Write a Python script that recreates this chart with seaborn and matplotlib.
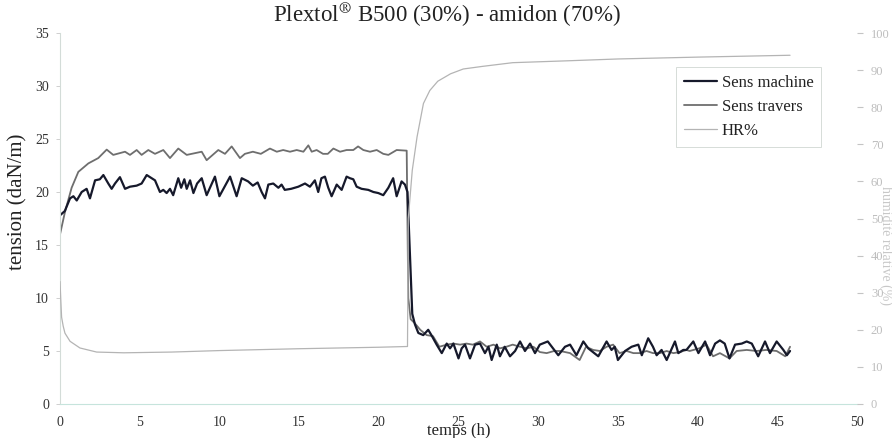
import matplotlib
matplotlib.use("Agg")
import matplotlib.pyplot as plt
import pandas as pd
import seaborn as sns

# temps (h) / tension (daN/m)
temps_machine = [0.0, 0.3, 0.63, 0.84, 1.05, 1.36, 1.67, 1.88, 2.2, 2.5, 2.72, 3.03, 3.24, 3.45,
                 3.76, 4.08, 4.39, 4.81, 5.12, 5.44, 5.75, 5.96, 6.27, 6.48, 6.69, 6.9, 7.1, 7.42,
                 7.6, 7.8, 7.95, 8.16, 8.37, 8.6, 8.89, 9.2, 9.72, 10.0, 10.67, 11.08, 11.4, 11.8,
                 12.1, 12.4, 12.65, 12.86, 13.07, 13.38, 13.7, 13.9, 14.1, 14.5, 14.95, 15.37,
                 15.68, 15.99, 16.2, 16.4, 16.62, 16.83, 17.04, 17.36, 17.67, 17.98, 18.19, 18.4,
                 18.61, 18.92, 19.34, 19.66, 19.97, 20.28, 20.6, 20.9, 21.12, 21.43, 21.64, 21.8,
                 22.1, 22.27, 22.48, 22.79, 23.1, 23.3, 23.63, 23.95, 24.26, 24.47, 24.68, 25.0,
                 25.2, 25.41, 25.72, 26.04, 26.35, 26.66, 26.88, 27.08, 27.4, 27.6, 27.9, 28.23,
                 28.55, 28.86, 29.17, 29.49, 29.8, 30.1, 30.6, 31.26, 31.68, 32.0, 32.4, 32.83,
                 33.14, 33.77, 34.29, 34.6, 34.8, 35.0, 35.45, 35.86, 36.28, 36.5, 36.9, 37.2,
                 37.43, 37.74, 38.06, 38.58, 38.79, 39.1, 39.3, 39.73, 40.05, 40.47, 40.78, 41.1,
                 41.4, 41.7, 42.0, 42.35, 42.77, 43.08, 43.4, 43.8, 44.23, 44.54, 44.96, 45.38,
                 45.6, 45.8]
tension_machine = [17.8, 18.2, 19.4, 19.6, 19.2, 20.0, 20.3, 19.4, 21.1, 21.2, 21.6, 20.8, 20.3, 20.8,
                   21.4, 20.3, 20.5, 20.6, 20.8, 21.6, 21.3, 21.1, 20.0, 20.2, 19.9, 20.3, 19.7, 21.3,
                   20.4, 21.2, 20.3, 21.1, 19.9, 20.8, 21.3, 19.7, 21.45, 19.6, 21.45, 19.6, 21.3, 21.0,
                   20.6, 20.9, 20.0, 19.4, 20.7, 20.8, 20.4, 20.7, 20.2, 20.3, 20.5, 20.8,
                   20.5, 21.1, 20.0, 21.3, 21.45, 20.4, 19.6, 20.7, 20.2, 21.45, 21.3, 21.2,
                   20.5, 20.3, 20.2, 20.0, 19.9, 19.7, 20.4, 21.3, 19.6, 21.0, 20.7, 20.0,
                   8.5, 7.5, 6.7, 6.5, 7.0, 6.5, 5.6, 4.8, 5.7, 5.25, 5.7, 4.3,
                   5.25, 5.6, 4.3, 5.6, 5.7, 4.8, 5.4, 4.15, 5.6, 4.5, 5.4, 4.5,
                   5.0, 5.9, 5.0, 5.7, 4.8, 5.6, 5.9, 4.6, 5.4, 5.6, 4.6, 5.9,
                   5.25, 4.5, 5.9, 5.1, 5.4, 4.15, 5.0, 5.4, 5.6, 4.6, 6.2, 5.4,
                   4.6, 5.1, 4.15, 5.9, 4.8, 5.1, 5.1, 5.9, 4.8, 5.9, 4.6, 5.7,
                   6.0, 5.7, 4.3, 5.6, 5.7, 5.9, 5.7, 4.5, 5.9, 4.8, 5.9, 5.1,
                   4.6, 5.0]

temps_travers = [0.0, 0.31, 0.73, 1.15, 1.78, 2.4, 2.93, 3.34, 4.08, 4.39, 4.81, 5.12, 5.54, 5.96,
                 6.48, 6.9, 7.42, 7.95, 8.89, 9.2, 9.93, 10.35, 10.77, 11.29, 11.6, 12.1, 12.6,
                 13.17, 13.6, 14.0, 14.43, 14.85, 15.27, 15.58, 15.79, 16.1, 16.5, 16.8, 17.15,
                 17.57, 17.98, 18.4, 18.7, 19.03, 19.45, 19.87, 20.28, 20.6, 21.12, 21.75, 21.85,
                 22.0, 22.27, 22.6, 23.0, 23.4, 23.8, 24.26, 24.68, 25.1, 25.5, 25.9, 26.35, 26.77,
                 27.2, 27.6, 28.0, 28.4, 28.86, 29.3, 29.7, 30.1, 30.53, 31.0, 31.37, 32.0, 32.6,
                 33.0, 33.45, 33.87, 34.29, 34.7, 35.1, 35.55, 35.97, 36.38, 36.8, 37.2, 37.64,
                 38.06, 38.48, 38.9, 39.3, 39.5, 40.1, 40.56, 40.97, 41.4, 42.0, 42.45, 43.08,
                 43.7, 44.3, 44.96, 45.5, 45.8]
tension_travers = [16.0, 18.1, 20.4, 21.9, 22.7, 23.2, 24.0, 23.5, 23.8, 23.5, 23.96, 23.5, 23.96, 23.6,
                   23.96, 23.2, 24.1, 23.5, 23.8, 23.0, 23.96, 23.6, 24.3, 23.2, 23.6, 23.8, 23.6,
                   24.1, 23.8, 23.96, 23.8, 23.96, 23.8, 24.4, 23.8, 23.96, 23.6, 23.6, 24.1,
                   23.8, 23.96, 23.96, 24.3, 23.96, 23.8, 23.96, 23.6, 23.5, 23.96, 23.9, 10.0,
                   8.0, 7.6, 7.0, 6.5, 6.4, 5.4, 5.6, 5.7, 5.6, 5.7, 5.6, 5.9, 5.4,
                   5.6, 5.25, 5.4, 5.6, 5.4, 5.25, 5.4, 4.9, 4.8, 5.0, 5.0, 4.8, 4.15,
                   5.4, 5.1, 5.0, 5.4, 5.6, 4.8, 5.0, 4.8, 4.8, 5.0, 4.8, 4.8,
                   5.0, 4.8, 4.9, 5.1, 5.0, 5.25, 5.6, 4.5, 4.8, 4.3, 5.0, 5.1,
                   5.0, 5.1, 5.0, 4.5, 5.4]

# humidite relative (%), right axis
temps_hr = [0.0, 0.05, 0.1, 0.2, 0.31, 0.63, 1.25, 2.3, 4.0, 7.0, 10.0, 15.0, 20.0, 21.8,
            21.85, 22.1, 22.4, 22.8, 23.2, 23.7, 24.5, 25.3, 26.5, 28.4, 31.8, 35.0, 40.0, 45.8]
hr = [33.0, 28.0, 23.4, 21.0, 19.1, 16.9, 15.1, 14.0, 13.8, 14.0, 14.4, 14.9, 15.3, 15.5,
      50.0, 63.0, 72.0, 81.0, 84.5, 87.0, 89.0, 90.3, 91.0, 92.0, 92.5, 93.0, 93.5, 94.0]

x_ticks = list(range(0, 51, 5))
y_ticks = list(range(0, 36, 5))
hr_ticks = list(range(0, 101, 10))

sns.set_theme(style="white")
plt.rcParams['font.family'] = ['Liberation Serif', 'DejaVu Serif']
plt.rcParams['mathtext.fontset'] = 'stix'

fig = plt.figure(figsize=(8.92, 4.38), dpi=100)
ax = fig.add_axes([60 / 892, 1 - 404 / 438, 797 / 892, 371 / 438])
ax2 = ax.twinx()

df_m = pd.DataFrame({"temps": temps_machine, "tension": tension_machine})
df_t = pd.DataFrame({"temps": temps_travers, "tension": tension_travers})
df_h = pd.DataFrame({"temps": temps_hr, "hr": hr})

sns.lineplot(data=df_t, x="temps", y="tension", ax=ax, color="#6e6e6e", lw=1.3,
             sort=False, estimator=None)
sns.lineplot(data=df_m, x="temps", y="tension", ax=ax, color="#16192b", lw=1.6,
             sort=False, estimator=None)
sns.lineplot(data=df_h, x="temps", y="hr", ax=ax2, color="#b4b4b4", lw=0.9,
             sort=False, estimator=None)

ax.set_xlim(0, 50)
ax.set_ylim(0, 35)
ax2.set_ylim(0, 100)
ax.set_xticks(x_ticks)
ax.set_yticks(y_ticks)
ax2.set_yticks(hr_ticks)
ax.set_xlabel("")
ax.set_ylabel("")
ax2.set_ylabel("")

ax.tick_params(axis="x", length=0, pad=9, labelsize=10, labelcolor="#333333")
ax.tick_params(axis="y", left=True, length=3, width=0.6, color="#c8c8c8", pad=5,
               labelsize=10, labelcolor="#333333")
ax2.tick_params(axis="y", right=True, length=4, width=0.8, color="#c4c4c4", pad=6,
                labelsize=9, labelcolor="#bdbdbd")

for s in ["top", "right"]:
    ax.spines[s].set_visible(False)
for s in ax2.spines.values():
    s.set_visible(False)
ax.spines["left"].set_color("#d3dcd8")
ax.spines["left"].set_linewidth(0.8)
ax.spines["bottom"].set_color("#c6e4dc")
ax.spines["bottom"].set_linewidth(0.8)

handles = [ax.lines[1], ax.lines[0], ax2.lines[0]]
labels = ["Sens machine", "Sens travers", "HR%"]
leg = ax2.legend(handles, labels, loc="upper left", bbox_to_anchor=(0.773, 0.908),
                 borderaxespad=0, fontsize=12, frameon=True, fancybox=False,
                 handlelength=2.0, handletextpad=0.3, labelspacing=0.5,
                 borderpad=0.45, edgecolor="#d6dcd8", framealpha=1)
leg.get_frame().set_linewidth(0.7)
for t in leg.get_texts():
    t.set_color("#222222")

fig.text(447 / 892, 1 - 15 / 438, r"Plextol$^{\circledR}$ B500 (30%) - amidon (70%)",
         ha="center", va="center", fontsize=16.5, color="#222222")
fig.text(18 / 892, 1 - 202 / 438, "tension (daN/m)", rotation=90, ha="center",
         va="center", fontsize=15, color="#222222")
fig.text(459 / 892, 1 - 431 / 438, "temps (h)", ha="center", va="center",
         fontsize=12, color="#222222")
fig.text(886 / 892, 1 - 245 / 438, "humidité relative (%)", rotation=-90, ha="center",
         va="center", fontsize=10, color="#c8c8c8")

fig.savefig("out.png", dpi=100)
